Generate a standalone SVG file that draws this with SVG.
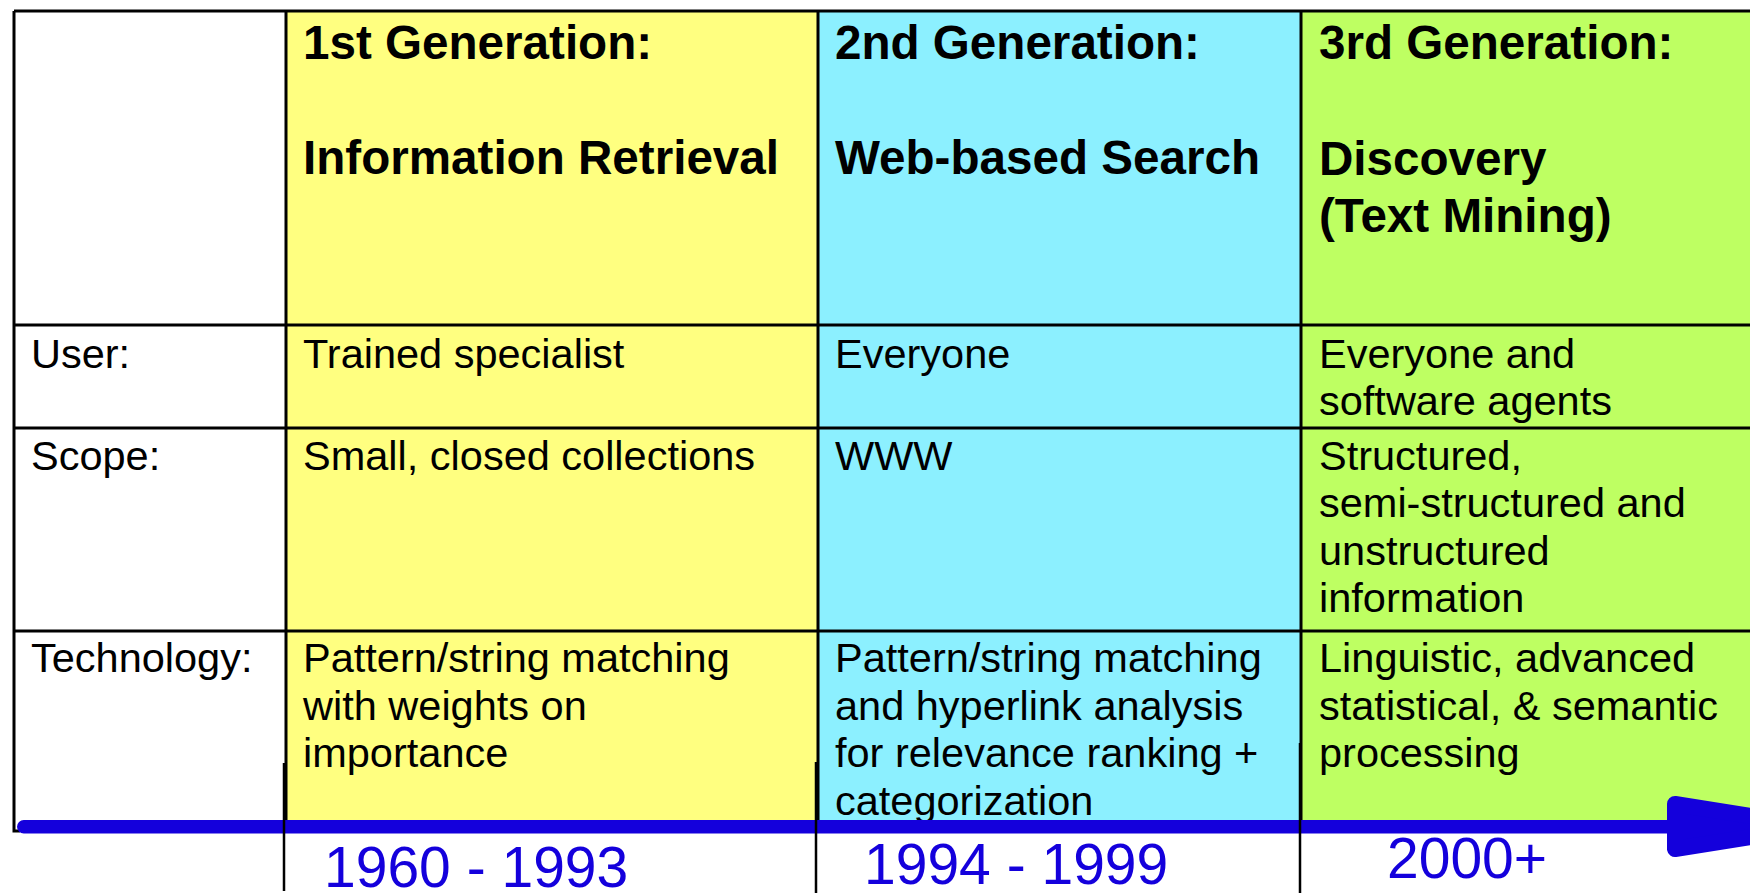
<svg xmlns="http://www.w3.org/2000/svg" width="1750" height="896" viewBox="0 0 1750 896">
<style>
.t{font-family:"Liberation Sans",Arial,sans-serif;font-size:41.5px;fill:#000}
.h{font-family:"Liberation Sans",Arial,sans-serif;font-size:47.6px;font-weight:bold;fill:#000}
.y{font-family:"Liberation Sans",Arial,sans-serif;font-size:57px;fill:#1400DC}
.b{stroke:#000;stroke-width:3;fill:none}
.k{stroke:#000;stroke-width:2.5;fill:none}
</style>
<rect width="1750" height="896" fill="#fff"/>
<g id="fills">
<rect x="286" y="11" width="532" height="809" fill="#FFFF80"/>
<rect x="818" y="11" width="483" height="809" fill="#8CF0FF"/>
<rect x="1301" y="11" width="449" height="809" fill="#BEFF62"/>
</g>
<g id="grid">
<path class="b" d="M14 11H1750M14 325H1750M14 428H1750M14 631H1750M14 11V831H20M286 11V820M818 11V820M1301 11V820"/>
</g>
<g id="header">
<text class="h" x="303" y="59">1st Generation:</text>
<text class="h" x="303" y="174">Information Retrieval</text>
<text class="h" x="835" y="59">2nd Generation:</text>
<text class="h" x="835" y="174">Web-based Search</text>
<text class="h" x="1319" y="59">3rd Generation:</text>
<text class="h" x="1319" y="175">Discovery</text>
<text class="h" x="1319" y="232">(Text Mining)</text>
</g>
<g id="row-user">
<text class="t" x="31" y="368">User:</text>
<text class="t" x="303" y="368">Trained specialist</text>
<text class="t" x="835" y="368">Everyone</text>
<text class="t" x="1319" y="368">Everyone and</text>
<text class="t" x="1319" y="415">software agents</text>
</g>
<g id="row-scope">
<text class="t" x="31" y="470">Scope:</text>
<text class="t" x="303" y="470">Small, closed collections</text>
<text class="t" x="835" y="470">WWW</text>
<text class="t" x="1319" y="470">Structured,</text>
<text class="t" x="1319" y="517">semi-structured and</text>
<text class="t" x="1319" y="565">unstructured</text>
<text class="t" x="1319" y="612">information</text>
</g>
<g id="row-technology">
<text class="t" x="31" y="672">Technology:</text>
<text class="t" x="303" y="672">Pattern/string matching</text>
<text class="t" x="303" y="720">with weights on</text>
<text class="t" x="303" y="767">importance</text>
<text class="t" x="835" y="672">Pattern/string matching</text>
<text class="t" x="835" y="720">and hyperlink analysis</text>
<text class="t" x="835" y="767">for relevance ranking +</text>
<text class="t" x="835" y="815">categorization</text>
<text class="t" x="1319" y="672">Linguistic, advanced</text>
<text class="t" x="1319" y="720">statistical, &amp; semantic</text>
<text class="t" x="1319" y="767">processing</text>
</g>
<g id="connectors">
<rect x="17" y="820" width="1665" height="13.5" rx="6.75" fill="#1400DC"/>
<path d="M1675 804L1816 826.5L1675 849Z" fill="#1400DC" stroke="#1400DC" stroke-width="16" stroke-linejoin="round"/>
</g>
<g id="ticks">
<path class="k" d="M284 763V891M816 762V893M1300 743V893"/>
</g>
<g id="years">
<text class="y" x="324" y="887">1960 - 1993</text>
<text class="y" x="864" y="884">1994 - 1999</text>
<text class="y" x="1387" y="878">2000+</text>
</g>
</svg>
